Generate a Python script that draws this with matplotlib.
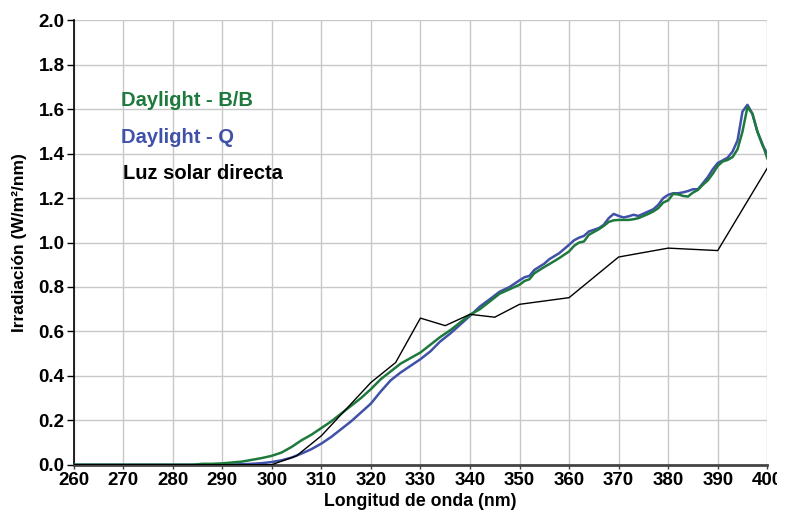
import matplotlib.pyplot as plt
from matplotlib.transforms import Bbox
import numpy as np

# Daylight - B/B (green)
wl_bb = [260, 284, 286, 288, 290, 292, 294, 296, 298, 300, 302, 304, 306, 308,
         310, 312, 314, 316, 318, 320, 322, 324, 326, 328, 330, 332, 334, 336,
         338, 340, 342, 344, 346, 348, 350, 351, 352, 353, 355, 356, 358, 360,
         361, 362, 363, 364, 366, 367, 368, 369, 370, 372, 373, 374, 376, 377,
         378, 379, 380, 381, 382, 383, 384, 385, 386, 387, 388, 389, 390, 391,
         392, 393, 394, 395, 396, 397, 398, 399, 400]
irr_bb = [0.0, 0.0, 0.004, 0.004, 0.006, 0.010, 0.014, 0.022, 0.030, 0.040, 0.055,
          0.080, 0.110, 0.135, 0.165, 0.195, 0.230, 0.265, 0.300, 0.340, 0.385,
          0.420, 0.455, 0.480, 0.505, 0.540, 0.575, 0.605, 0.640, 0.675, 0.700,
          0.735, 0.770, 0.790, 0.810, 0.827, 0.835, 0.862, 0.890, 0.903, 0.930,
          0.960, 0.985, 1.000, 1.005, 1.035, 1.060, 1.075, 1.093, 1.100, 1.102,
          1.102, 1.105, 1.110, 1.129, 1.140, 1.155, 1.180, 1.190, 1.219, 1.217,
          1.210, 1.207, 1.225, 1.237, 1.260, 1.280, 1.310, 1.345, 1.365, 1.372,
          1.385, 1.420, 1.500, 1.610, 1.580, 1.500, 1.445, 1.380]

# Daylight - Q (blue)
wl_q = [260, 290, 292, 294, 296, 298, 300, 302, 304, 306, 308, 310, 312, 314,
        316, 318, 320, 322, 324, 326, 328, 330, 332, 334, 336, 338, 340, 342,
        344, 346, 348, 350, 351, 352, 353, 355, 356, 358, 360, 361, 362, 363,
        364, 366, 367, 368, 369, 370, 371, 372, 373, 374, 376, 377, 378, 379,
        380, 381, 382, 383, 384, 385, 386, 387, 388, 389, 390, 391, 392, 393,
        394, 395, 396, 397, 398, 399, 400]
irr_q = [0.0, 0.0, 0.001, 0.002, 0.004, 0.007, 0.012, 0.020, 0.032, 0.050, 0.070,
         0.095, 0.125, 0.160, 0.195, 0.235, 0.275, 0.330, 0.380, 0.415, 0.445,
         0.475, 0.510, 0.555, 0.590, 0.630, 0.670, 0.712, 0.745, 0.779, 0.800,
         0.830, 0.844, 0.850, 0.877, 0.905, 0.925, 0.952, 0.990, 1.010, 1.022,
         1.030, 1.050, 1.065, 1.080, 1.110, 1.129, 1.120, 1.113, 1.118, 1.125,
         1.120, 1.140, 1.150, 1.170, 1.200, 1.215, 1.222, 1.222, 1.226, 1.232,
         1.240, 1.240, 1.267, 1.295, 1.330, 1.358, 1.370, 1.382, 1.410, 1.460,
         1.590, 1.620, 1.580, 1.500, 1.440, 1.400]

# Luz solar directa (black)
wl_sun = [260, 300, 305, 310, 315, 320, 325, 330, 335, 340, 345, 350, 355, 360,
          370, 380, 390, 400]
irr_sun = [0.0, 0.0, 0.04, 0.13, 0.25, 0.37, 0.46, 0.66, 0.626, 0.677, 0.664,
           0.722, 0.737, 0.752, 0.935, 0.975, 0.964, 1.335]

x_ticks = np.arange(260, 401, 10)
y_ticks = np.arange(0, 2.01, 0.2)

green = '#1e7a3c'
blue = '#3f51a8'


def irradiance_plot():
    plt.rcParams['font.family'] = ['Liberation Sans', 'DejaVu Sans']
    fig = plt.figure(figsize=(7.91, 5.16), dpi=100)
    ax = fig.add_axes([0.093, 0.0994, 0.877, 0.861])

    ax.plot(wl_q, irr_q, color=blue, lw=1.8, zorder=3)
    ax.plot(wl_bb, irr_bb, color=green, lw=1.8, zorder=4)
    ax.plot(wl_sun, irr_sun, color='black', lw=1.0, zorder=5)

    ax.set_xlim(260, 400)
    ax.set_ylim(0, 2.0)
    ax.set_xticks(x_ticks)
    ax.set_yticks(y_ticks)
    ax.set_xticklabels(['%d' % t for t in x_ticks], fontsize=13.5, fontweight='bold')
    ax.set_yticklabels(['%.1f' % t for t in y_ticks], fontsize=13.5, fontweight='bold')
    ax.tick_params(axis='y', length=5, width=1, pad=1.5)
    ax.tick_params(axis='x', length=3, width=1, pad=2, color='#444444')
    ax.grid(True, color='#c8c8c8', lw=1)
    ax.set_axisbelow(True)

    for s in ['top', 'right']:
        ax.spines[s].set_visible(False)
    ax.spines['left'].set_color('black')
    ax.spines['left'].set_linewidth(1.2)
    ax.spines['bottom'].set_color('#444444')
    ax.spines['bottom'].set_linewidth(2)

    ax.set_xlabel('Longitud de onda (nm)', fontsize=12.8, fontweight='bold', labelpad=3)
    ax.set_ylabel('Irradiación (W/m²/nm)', fontsize=12.5, fontweight='bold', labelpad=8)

    ax.text(269.6, 1.64, 'Daylight - B/B', color=green, fontsize=14.5, fontweight='bold', va='center')
    ax.text(269.6, 1.475, 'Daylight - Q', color=blue, fontsize=14.5, fontweight='bold', va='center')
    ax.text(270.0, 1.31, 'Luz solar directa', color='black', fontsize=14.5, fontweight='bold', va='center')

    # the last tick label is cut off at the right edge in the original
    last = ax.get_xticklabels()[-1]
    last.set_clip_box(Bbox.from_extents(0, 0, 777, 516))
    last.set_clip_on(True)

    plt.savefig('out.png', dpi=100)


if __name__ == '__main__':
    irradiance_plot()
